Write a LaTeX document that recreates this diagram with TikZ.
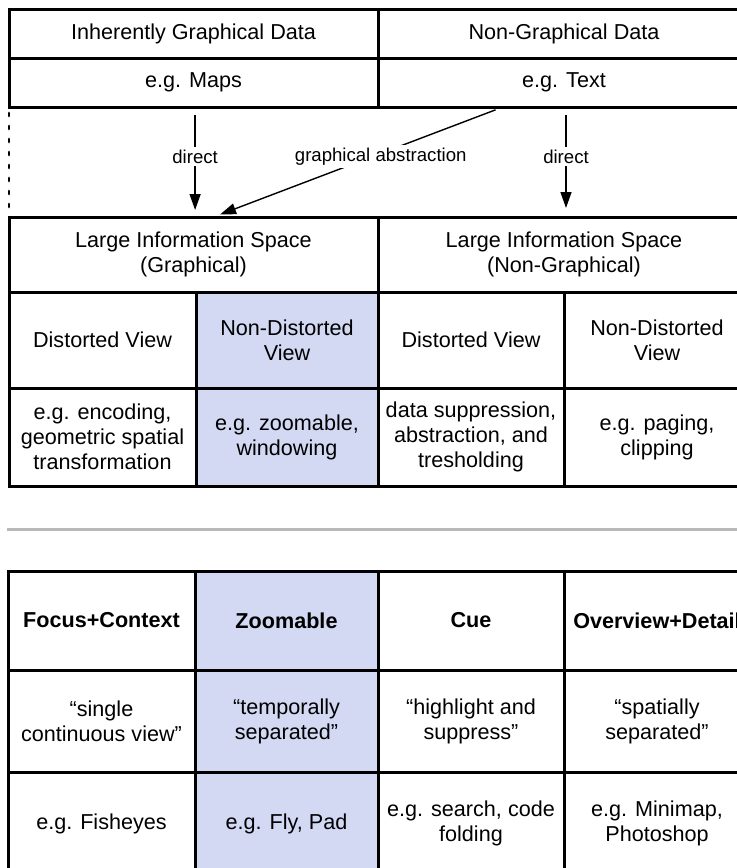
\documentclass[tikz,border=0pt]{standalone}
\usepackage{fontspec}
\setmainfont{Liberation Sans}
\usetikzlibrary{arrows.meta}
\definecolor{zoomblue}{HTML}{D3D8F3}
\definecolor{rulegray}{HTML}{B9B9B9}
\tikzset{
  cell/.style={draw, line width=1.5pt, rectangle, inner sep=0pt, outer sep=0pt, align=center, font=\fontsize{10.8}{12.5}\selectfont},
  hilite/.style={cell, fill=zoomblue},
  flow/.style={line width=0.7pt, -{Triangle[length=8pt,width=5.5pt]}},
  lbl/.style={fill=white, inner sep=1.5pt, font=\fontsize{9.3}{11}\selectfont}
}
\begin{document}
\begin{tikzpicture}[x=0.5pt, y=-0.5pt]
\useasboundingbox (0,0) rectangle (737,868);
\clip (0,0) rectangle (737,868);
\node[cell, minimum width=184.5pt, minimum height=24.5pt] (gdat) at (193.5,33.5) {Inherently Graphical Data};
\node[cell, minimum width=186pt, minimum height=24.5pt] (ndat) at (564,33.5) {Non-Graphical Data};
\node[cell, minimum width=184.5pt, minimum height=24.5pt] (gex) at (193.5,82.5) {e.g. Maps};
\node[cell, minimum width=186pt, minimum height=24.5pt] (tex) at (564,82.5) {e.g. Text};
\node[cell, minimum width=184.5pt, minimum height=37.5pt] (gspace) at (193.5,254.5) {Large Information Space\\(Graphical)};
\node[cell, minimum width=186pt, minimum height=37.5pt] (nspace) at (564,254.5) {Large Information Space\\(Non-Graphical)};
\node[cell, minimum width=93.5pt, minimum height=48pt] (gdist) at (102.5,340) {Distorted View};
\node[hilite, minimum width=91pt, minimum height=48pt] (gnon) at (287,340) {Non-Distorted\\View};
\node[cell, minimum width=93pt, minimum height=48pt] (ndist) at (471,340) {Distorted View};
\node[cell, minimum width=93pt, minimum height=48pt] (nnon) at (657,340) {Non-Distorted\\View};
\node[cell, minimum width=93.5pt, minimum height=49pt] (gdistex) at (102.5,437) {e.g. encoding,\\geometric spatial\\transformation};
\node[hilite, minimum width=91pt, minimum height=49pt] (gnonex) at (287,437) {e.g. zoomable,\\windowing};
\node[cell, minimum width=93pt, minimum height=49pt] (ndistex) at (471,437) {data suppression,\\abstraction, and\\tresholding};
\node[cell, minimum width=93pt, minimum height=49pt] (nnonex) at (657,437) {e.g. paging,\\clipping};
\draw[line width=1.4pt, dash pattern=on 1.5pt off 5pt, line cap=round] ([yshift=-3pt]gex.south west) -- ([yshift=3pt]gspace.north west);
\draw[flow, shorten <=4pt, shorten >=3.5pt] ([xshift=0.8pt]gex.south) -- ([xshift=0.8pt]gspace.north) node[lbl, pos=0.45] {direct};
\draw[flow, shorten <=4pt, shorten >=4.5pt] ([xshift=1pt]tex.south) -- ([xshift=1pt]nspace.north) node[lbl, pos=0.45] {direct};
\draw[flow, shorten <=4pt, shorten >=3.5pt] ([xshift=-30.5pt]tex.south) -- ([xshift=10pt]gspace.north) node[lbl, pos=0.45, xshift=4pt] {graphical abstraction};
\draw[rulegray, line width=1.5pt] (7,529) -- (760,529);
\node[cell, minimum width=93.5pt, minimum height=49.5pt] (fc) at (101.5,620.5) {\textbf{Focus+Context}};
\node[hilite, minimum width=91.5pt, minimum height=49.5pt] (zm) at (286.5,620.5) {\textbf{Zoomable}};
\node[cell, minimum width=93pt, minimum height=49.5pt] (cue) at (471,620.5) {\textbf{Cue}};
\node[cell, minimum width=93pt, minimum height=49.5pt] (od) at (657,620.5) {\textbf{Overview+Detail}};
\node[cell, minimum width=93.5pt, minimum height=51pt] (fcq) at (101.5,721) {“single\\continuous view”};
\node[hilite, minimum width=91.5pt, minimum height=51pt] (zmq) at (286.5,721) {“temporally\\separated”};
\node[cell, minimum width=93pt, minimum height=51pt] (cueq) at (471,721) {“highlight and\\suppress”};
\node[cell, minimum width=93pt, minimum height=51pt] (odq) at (657,721) {“spatially\\separated”};
\node[cell, minimum width=93.5pt, minimum height=51.5pt] (fcex) at (101.5,823.5) {e.g. Fisheyes};
\node[hilite, minimum width=91.5pt, minimum height=51.5pt] (zmex) at (286.5,823.5) {e.g. Fly, Pad};
\node[cell, minimum width=93pt, minimum height=51.5pt] (cueex) at (471,823.5) {e.g. search, code\\folding};
\node[cell, minimum width=93pt, minimum height=51.5pt] (odex) at (657,823.5) {e.g. Minimap,\\Photoshop};
\end{tikzpicture}
\end{document}
